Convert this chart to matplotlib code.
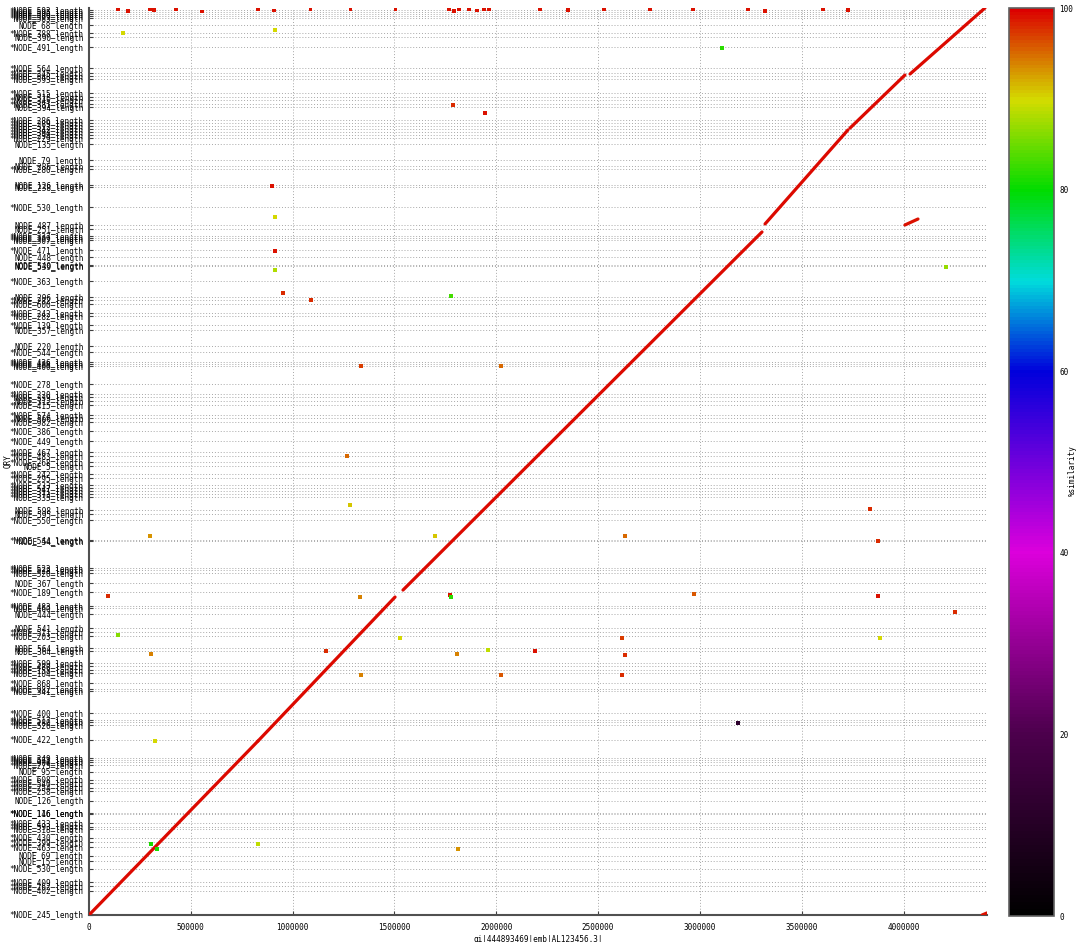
import numpy as np
import matplotlib
matplotlib.use("Agg")
import matplotlib.pyplot as plt
from matplotlib.colors import LinearSegmentedColormap, Normalize
from matplotlib.cm import ScalarMappable

# reference length / query length (bp)
ref_len = 4410000
qry_len = 4410000
ref_name = "gi|444893469|emb|AL123456.3|"

# query contigs, bottom to top: label and start offset (bp)
contig_names = [
    "*NODE_245_length", "*NODE_402_length", "*NODE_262_length", "*NODE_409_length",
    "*NODE_530_length", "NODE_15_length", "NODE_69_length", "*NODE_463_length",
    "*NODE_399_length", "*NODE_430_length", "*NODE_318_length", "*NODE_593_length",
    "*NODE_433_length", "*NODE_116_length", "*NODE_146_length", "NODE_126_length",
    "*NODE_258_length", "*NODE_254_length", "*NODE_540_length", "*NODE_608_length",
    "NODE_95_length", "*NODE_275_length", "*NODE_900_length", "*NODE_571_length",
    "*NODE_349_length", "*NODE_422_length", "*NODE_526_length", "*NODE_180_length",
    "*NODE_517_length", "*NODE_400_length", "*NODE_341_length", "*NODE_982_length",
    "*NODE_868_length", "*NODE_104_length", "*NODE_158_length", "*NODE_480_length",
    "*NODE_599_length", "NODE_364_length", "NODE_564_length", "*NODE_203_length",
    "*NODE_511_length", "NODE_541_length", "NODE_444_length", "*NODE_460_length",
    "*NODE_483_length", "*NODE_189_length", "NODE_367_length", "*NODE_520_length",
    "*NODE_528_length", "*NODE_523_length", "*NODE_54_length", "*NODE_544_length",
    "*NODE_550_length", "NODE_595_length", "NODE_598_length", "*NODE_335_length",
    "*NODE_373_length", "*NODE_311_length", "*NODE_547_length", "*NODE_233_length",
    "*NODE_295_length", "*NODE_242_length", "NODE_5_length", "*NODE_268_length",
    "*NODE_483_length", "*NODE_467_length", "*NODE_449_length", "*NODE_386_length",
    "*NODE_982_length", "NODE_566_length", "*NODE_574_length", "*NODE_415_length",
    "NODE_312_length", "*NODE_339_length", "*NODE_220_length", "*NODE_278_length",
    "*NODE_400_length", "*NODE_488_length", "*NODE_436_length", "*NODE_544_length",
    "NODE_220_length", "NODE_357_length", "*NODE_139_length", "*NODE_282_length",
    "*NODE_242_length", "*NODE_600_length", "*NODE_282_length", "NODE_296_length",
    "*NODE_363_length", "NODE_539_length", "NODE_540_length", "NODE_448_length",
    "*NODE_471_length", "*NODE_307_length", "*NODE_309_length", "*NODE_337_length",
    "NODE_251_length", "NODE_487_length", "*NODE_530_length", "NODE_238_length",
    "NODE_126_length", "*NODE_280_length", "NODE_286_length", "NODE_79_length",
    "NODE_135_length", "*NODE_229_length", "*NODE_294_length", "*NODE_394_length",
    "*NODE_342_length", "*NODE_312_length", "*NODE_289_length", "*NODE_286_length",
    "NODE_394_length", "*NODE_381_length", "*NODE_345_length", "NODE_315_length",
    "*NODE_515_length", "*NODE_593_length", "*NODE_548_length", "*NODE_345_length",
    "*NODE_564_length", "*NODE_491_length", "NODE_390_length", "*NODE_388_length",
    "NODE_68_length", "*NODE_583_length", "*NODE_569_length", "*NODE_599_length",
    "*NODE_595_length", "*NODE_593_length",
]
contig_start = [
    0, 116700, 141000, 160400, 223700, 262500, 286900, 330600,
    354900, 374400, 418100, 427900, 447300, 491100, 495900, 554300,
    602900, 617500, 641800, 656400, 695300, 729300, 743900, 753600,
    763300, 850900, 923800, 938400, 948100, 982100, 1089100, 1098800,
    1128000, 1176600, 1191200, 1210600, 1225200, 1283600, 1298200, 1356500,
    1375900, 1395400, 1463500, 1492600, 1502400, 1570400, 1614200, 1662800,
    1677400, 1687100, 1818400, 1823300, 1920500, 1949700, 1969100, 2032300,
    2046900, 2061500, 2076100, 2090700, 2124700, 2144100, 2183000, 2202500,
    2231700, 2251100, 2304600, 2353200, 2397000, 2416400, 2431000, 2479600,
    2499100, 2518500, 2533100, 2581700, 2669200, 2678900, 2688700, 2737300,
    2766500, 2844300, 2868600, 2912300, 2926900, 2970700, 2990100, 3004700,
    3082500, 3155400, 3160300, 3199200, 3233200, 3281900, 3291600, 3301300,
    3335300, 3354800, 3442300, 3539500, 3549300, 3627100, 3641600, 3670800,
    3748600, 3777800, 3792400, 3807000, 3821500, 3836100, 3850700, 3865300,
    3928500, 3943100, 3962500, 3977100, 3996600, 4064600, 4079200, 4093800,
    4118100, 4220200, 4268800, 4288200, 4327200, 4361200, 4370900, 4380600,
    4390400, 4400100,
]

# long alignments along the diagonal: ref start/end, query start/end, % identity
diag_x0 = [0, 830000, 1542000, 3320000, 3737000, 4032000]
diag_x1 = [830000, 1503000, 3305000, 3727000, 4007000, 4400000]
diag_y0 = [0, 846000, 1580000, 3360000, 3826000, 4089000]
diag_y1 = [846000, 1546000, 3321000, 3817000, 4084000, 4410000]
diag_idy = [99.5, 99.5, 99.5, 99.5, 99.5, 99.5]

# short alignments: ref start/end, query start/end, % identity
hit_x0 = [4007000, 4386000]
hit_x1 = [4071000, 4410000]
hit_y0 = [3355000, 0]
hit_y1 = [3384000, 10000]
hit_idy = [99, 99]

# point-like hits: ref pos, query pos, % identity
dot_x = [167000, 913000, 3109000, 1788000, 1945000, 899000, 913000, 913000,
         913000, 953000, 1090000, 1778000, 4209000, 1336000, 2023000, 1267000,
         1282000, 3835000, 300000, 1699000, 2632000, 3875000, 93000, 1331000,
         1773000, 1778000, 2971000, 3875000, 4253000, 142000, 1527000, 2618000,
         3885000, 304000, 1164000, 1807000, 1960000, 2190000, 2632000, 1336000,
         2023000, 2618000, 3187000, 324000, 304000, 334000, 830000, 1812000]
dot_y = [4288000, 4303000, 4215000, 3938000, 3899000, 3544000, 3394000, 3228000,
         3136000, 3024000, 2990000, 3010000, 3151000, 2669000, 2669000, 2232000,
         1993000, 1974000, 1843000, 1843000, 1843000, 1818000, 1551000, 1546000,
         1556000, 1546000, 1561000, 1551000, 1473000, 1361000, 1347000, 1347000,
         1347000, 1269000, 1284000, 1269000, 1288000, 1284000, 1264000, 1167000,
         1167000, 1167000, 933000, 846000, 345000, 321000, 345000, 321000]
dot_idy = [90, 90, 82, 98, 99, 99, 90, 99,
           88, 98, 98, 83, 87, 97, 95, 95,
           91, 98, 93, 91, 95, 98, 98, 94,
           99, 82, 96, 99, 98, 86, 90, 97,
           90, 94, 98, 94, 89, 99, 98, 94,
           96, 98, 12, 90, 81, 81, 89, 93]

# repeat hits along the top contigs
top_x = [142000, 192000, 300000, 319000, 427000, 555000, 830000, 909000,
         1088000, 1284000, 1505000, 1768000, 1793000, 1817000, 1866000, 1905000,
         1940000, 1964000, 2215000, 2353000, 2530000, 2755000, 2966000, 3236000,
         3320000, 3605000, 3727000]
top_y = [4403000, 4396000, 4405000, 4401000, 4404000, 4393000, 4405000, 4398000,
         4404000, 4404000, 4402000, 4405000, 4395000, 4403000, 4404000, 4398000,
         4405000, 4402000, 4404000, 4399000, 4404000, 4405000, 4403000, 4404000,
         4396000, 4405000, 4401000]
top_idy = [99] * len(top_x)

xticks = [0, 500000, 1000000, 1500000, 2000000, 2500000, 3000000, 3500000, 4000000]

cmap = LinearSegmentedColormap.from_list("similarity", [
    (0.00, "#000000"),
    (0.20, "#4c004c"),
    (0.40, "#dc00dc"),
    (0.60, "#0000dc"),
    (0.70, "#00dcdc"),
    (0.80, "#00dc00"),
    (0.90, "#d4dc00"),
    (1.00, "#dc0000"),
], N=256)
norm = Normalize(0, 100)

mono = "DejaVu Sans Mono"
fig = plt.figure(figsize=(10.76, 9.42), dpi=100)
ax = fig.add_axes([89 / 1076, 27 / 942, 898 / 1076, 907 / 942])

# grid
for x in xticks:
    ax.axvline(x, color="#a8a8a8", lw=0.7, ls=(0, (1, 2)), zorder=0)
for y in contig_start:
    ax.axhline(y, color="#a8a8a8", lw=0.7, ls=(0, (1, 2)), zorder=0)

for x0, x1, y0, y1, p in zip(diag_x0, diag_x1, diag_y0, diag_y1, diag_idy):
    ax.plot([x0, x1], [y0, y1], color=cmap(norm(p)), lw=2.3,
            solid_capstyle="round", zorder=3)
for x0, x1, y0, y1, p in zip(hit_x0, hit_x1, hit_y0, hit_y1, hit_idy):
    ax.plot([x0, x1], [y0, y1], color=cmap(norm(p)), lw=2.3,
            solid_capstyle="round", zorder=3)

ax.scatter(dot_x, dot_y, c=dot_idy, cmap=cmap, norm=norm, marker="s", s=7,
           linewidths=0, zorder=4)
ax.scatter(top_x, top_y, c=top_idy, cmap=cmap, norm=norm, marker="s", s=7,
           linewidths=0, zorder=4)

ax.set_xlim(0, ref_len)
ax.set_ylim(0, qry_len)
ax.set_xticks(xticks)
ax.set_xticklabels([str(x) for x in xticks], fontsize=5.5, family=mono)
ax.set_yticks(contig_start)
ax.set_yticklabels(contig_names, fontsize=5.5, family=mono)
ax.tick_params(axis="both", direction="in", length=3, width=0.8, color="#404040", pad=4)
ax.tick_params(axis="x", pad=6)
ax.set_xlabel(ref_name, fontsize=5.5, family=mono, labelpad=2)
ax.set_ylabel("QRY", fontsize=5.5, family=mono)
ax.yaxis.set_label_coords(-0.085, 0.5)

for side in ["top", "right"]:
    ax.spines[side].set_visible(False)
for side in ["left", "bottom"]:
    ax.spines[side].set_color("#505050")
    ax.spines[side].set_linewidth(1.5)

# similarity colour scale
cax = fig.add_axes([1009 / 1076, 26 / 942, 45 / 1076, 908 / 942])
cb = fig.colorbar(ScalarMappable(norm=norm, cmap=cmap), cax=cax)
cb.set_ticks([0, 20, 40, 60, 80, 100])
cb.ax.tick_params(length=0, labelsize=5.5, pad=4)
for lab in cb.ax.get_yticklabels():
    lab.set_family(mono)
cb.outline.set_edgecolor("#606060")
cb.outline.set_linewidth(1.2)
fig.text(1072 / 1076, 0.5, "%similarity", rotation=90, fontsize=5.5,
         family=mono, ha="center", va="center")

fig.savefig("out.png", dpi=100)
